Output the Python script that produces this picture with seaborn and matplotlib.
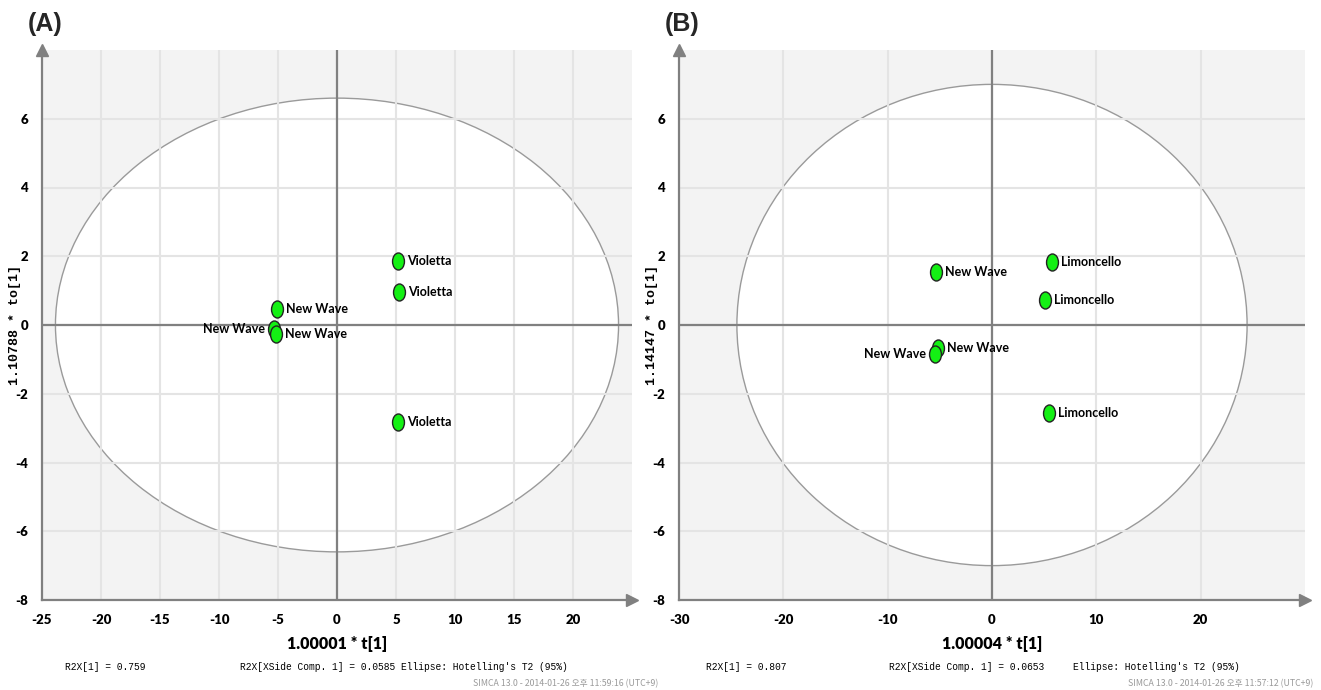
import numpy as np
import pandas as pd
import matplotlib
matplotlib.use("Agg")
import matplotlib.pyplot as plt
from matplotlib.patches import Ellipse
from matplotlib.markers import MarkerStyle
from matplotlib.transforms import Affine2D
import seaborn as sns

# panel A: New Wave vs Violetta
a_names = ["New Wave", "New Wave", "New Wave", "Violetta", "Violetta", "Violetta"]
a_x = [-5.08, -5.33, -5.16, 5.16, 5.25, 5.16]
a_y = [0.46, -0.12, -0.27, 1.87, 0.97, -2.83]
a_side = ["r", "l", "r", "r", "r", "r"]
a_ellipse = [23.86, 6.6]

# panel B: New Wave vs Limoncello
b_names = ["New Wave", "Limoncello", "Limoncello", "New Wave", "New Wave", "Limoncello"]
b_x = [-5.37, 5.73, 5.12, -5.22, -5.44, 5.44]
b_y = [1.55, 1.83, 0.73, -0.68, -0.84, -2.56]
b_side = ["r", "r", "r", "r", "l", "r"]
b_ellipse = [24.45, 7.0]

sns.set_style("white")
narrow = ["Liberation Sans Narrow", "Lato", "DejaVu Sans"]
mono = ["Liberation Mono", "DejaVu Sans Mono"]
gray = "#808080"

fig = plt.figure(figsize=(13.21, 6.9), dpi=100)
W, H = 1321, 690


def panel(left, right, names, xs, ys, sides, ell, xlim, xmajor, xminor,
          xlabel, ylabel, letter, foot, stamp, foot_x):
    ax = fig.add_axes([left / W, 1 - 600 / H, (right - left) / W, 550 / H])
    ax.set_facecolor("#f3f3f3")
    ax.add_patch(Ellipse((0, 0), 2 * ell[0], 2 * ell[1], facecolor="white",
                         edgecolor="#9a9a9a", lw=1.0, zorder=0.3))
    ax.set_xlim(*xlim)
    ax.set_ylim(-8, 8)
    ax.set_xticks(np.arange(xlim[0], xlim[1], xmajor))
    ax.set_xticks(np.arange(xlim[0], xlim[1], xminor), minor=True)
    ax.set_yticks(np.arange(-8, 7, 2))
    ax.set_yticks(np.arange(-8, 8, 1), minor=True)
    ax.grid(True, which="major", color="#e4e4e4", lw=1.5)
    ax.set_axisbelow(True)
    ax.axhline(0, color=gray, lw=1.6, zorder=1)
    ax.axvline(0, color=gray, lw=1.6, zorder=1)

    df = pd.DataFrame({"x": xs, "y": ys, "name": names})
    mk = MarkerStyle("o", transform=Affine2D().scale(0.7, 1.0))
    sns.scatterplot(data=df, x="x", y="y", ax=ax, marker=mk, s=150,
                    color="#14f014", edgecolor="#222222", linewidth=1.0,
                    zorder=3, legend=False)
    for n, x, y, sd in zip(names, xs, ys, sides):
        off = 6.5 if sd == "r" else -6.5
        ax.annotate(n, (x, y), xytext=(off, 0), textcoords="offset points",
                    ha="left" if sd == "r" else "right", va="center",
                    fontsize=9, fontweight="bold", family=narrow, color="black",
                    zorder=4)

    for s in ["top", "right"]:
        ax.spines[s].set_visible(False)
    for s in ["left", "bottom"]:
        ax.spines[s].set_color(gray)
        ax.spines[s].set_linewidth(1.6)
    ax.plot(1, 0, ">", color=gray, ms=8, transform=ax.transAxes, clip_on=False)
    ax.plot(0, 1, "^", color=gray, ms=8, transform=ax.transAxes, clip_on=False)
    ax.tick_params(which="both", direction="out", color=gray, width=1.2)
    ax.tick_params(which="major", length=5, pad=5)
    ax.tick_params(which="minor", length=3)
    ax.set_xticklabels([f"{v:g}" for v in ax.get_xticks()], fontweight="heavy",
                       family=narrow, fontsize=9.5, color="black")
    ax.set_yticklabels([f"{v:g}" for v in ax.get_yticks()], fontweight="heavy",
                       family=narrow, fontsize=9.5, color="black")
    ax.set_xlabel(xlabel, fontweight="heavy", family=narrow, fontsize=11.5,
                  labelpad=7, color="black")
    ax.set_ylabel(ylabel, fontweight="bold", family=mono,
                  fontsize=9.5, color="black")
    ax.yaxis.set_label_coords(-21 / (right - left), 0.5)

    fig.text(28 / W if left < 100 else (left - 14) / W, 1 - 24 / H, letter,
             fontsize=18, fontweight="bold", family="Liberation Sans", va="center")
    for t, fx in zip(foot, foot_x):
        fig.text(fx / W, 1 - 667 / H, t, family=mono, fontsize=6.9,
                 va="center", color="black")
    fig.text(foot_x[3] / W, 1 - 684 / H, stamp, family=["Noto Sans CJK KR", "DejaVu Sans"],
             fontsize=6.3, color="#9a9a9a", ha="right", va="center")
    return ax


panel(42, 632, a_names, a_x, a_y, a_side, a_ellipse, (-25, 25), 5, 2.5,
      "1.00001 * t[1]", "1.10788 * to[1]", "(A)",
      ["R2X[1] = 0.759", "R2X[XSide Comp. 1] = 0.0585", "Ellipse: Hotelling's T2 (95%)"],
      "SIMCA 13.0 - 2014-01-26 오후 11:59:16 (UTC+9)", [65, 240, 401, 658])
panel(679, 1305, b_names, b_x, b_y, b_side, b_ellipse, (-30, 30), 10, 5,
      "1.00004 * t[1]", "1.14147 * to[1]", "(B)",
      ["R2X[1] = 0.807", "R2X[XSide Comp. 1] = 0.0653", "Ellipse: Hotelling's T2 (95%)"],
      "SIMCA 13.0 - 2014-01-26 오후 11:57:12 (UTC+9)", [706, 889, 1073, 1313])

fig.savefig("out.png", dpi=100)
